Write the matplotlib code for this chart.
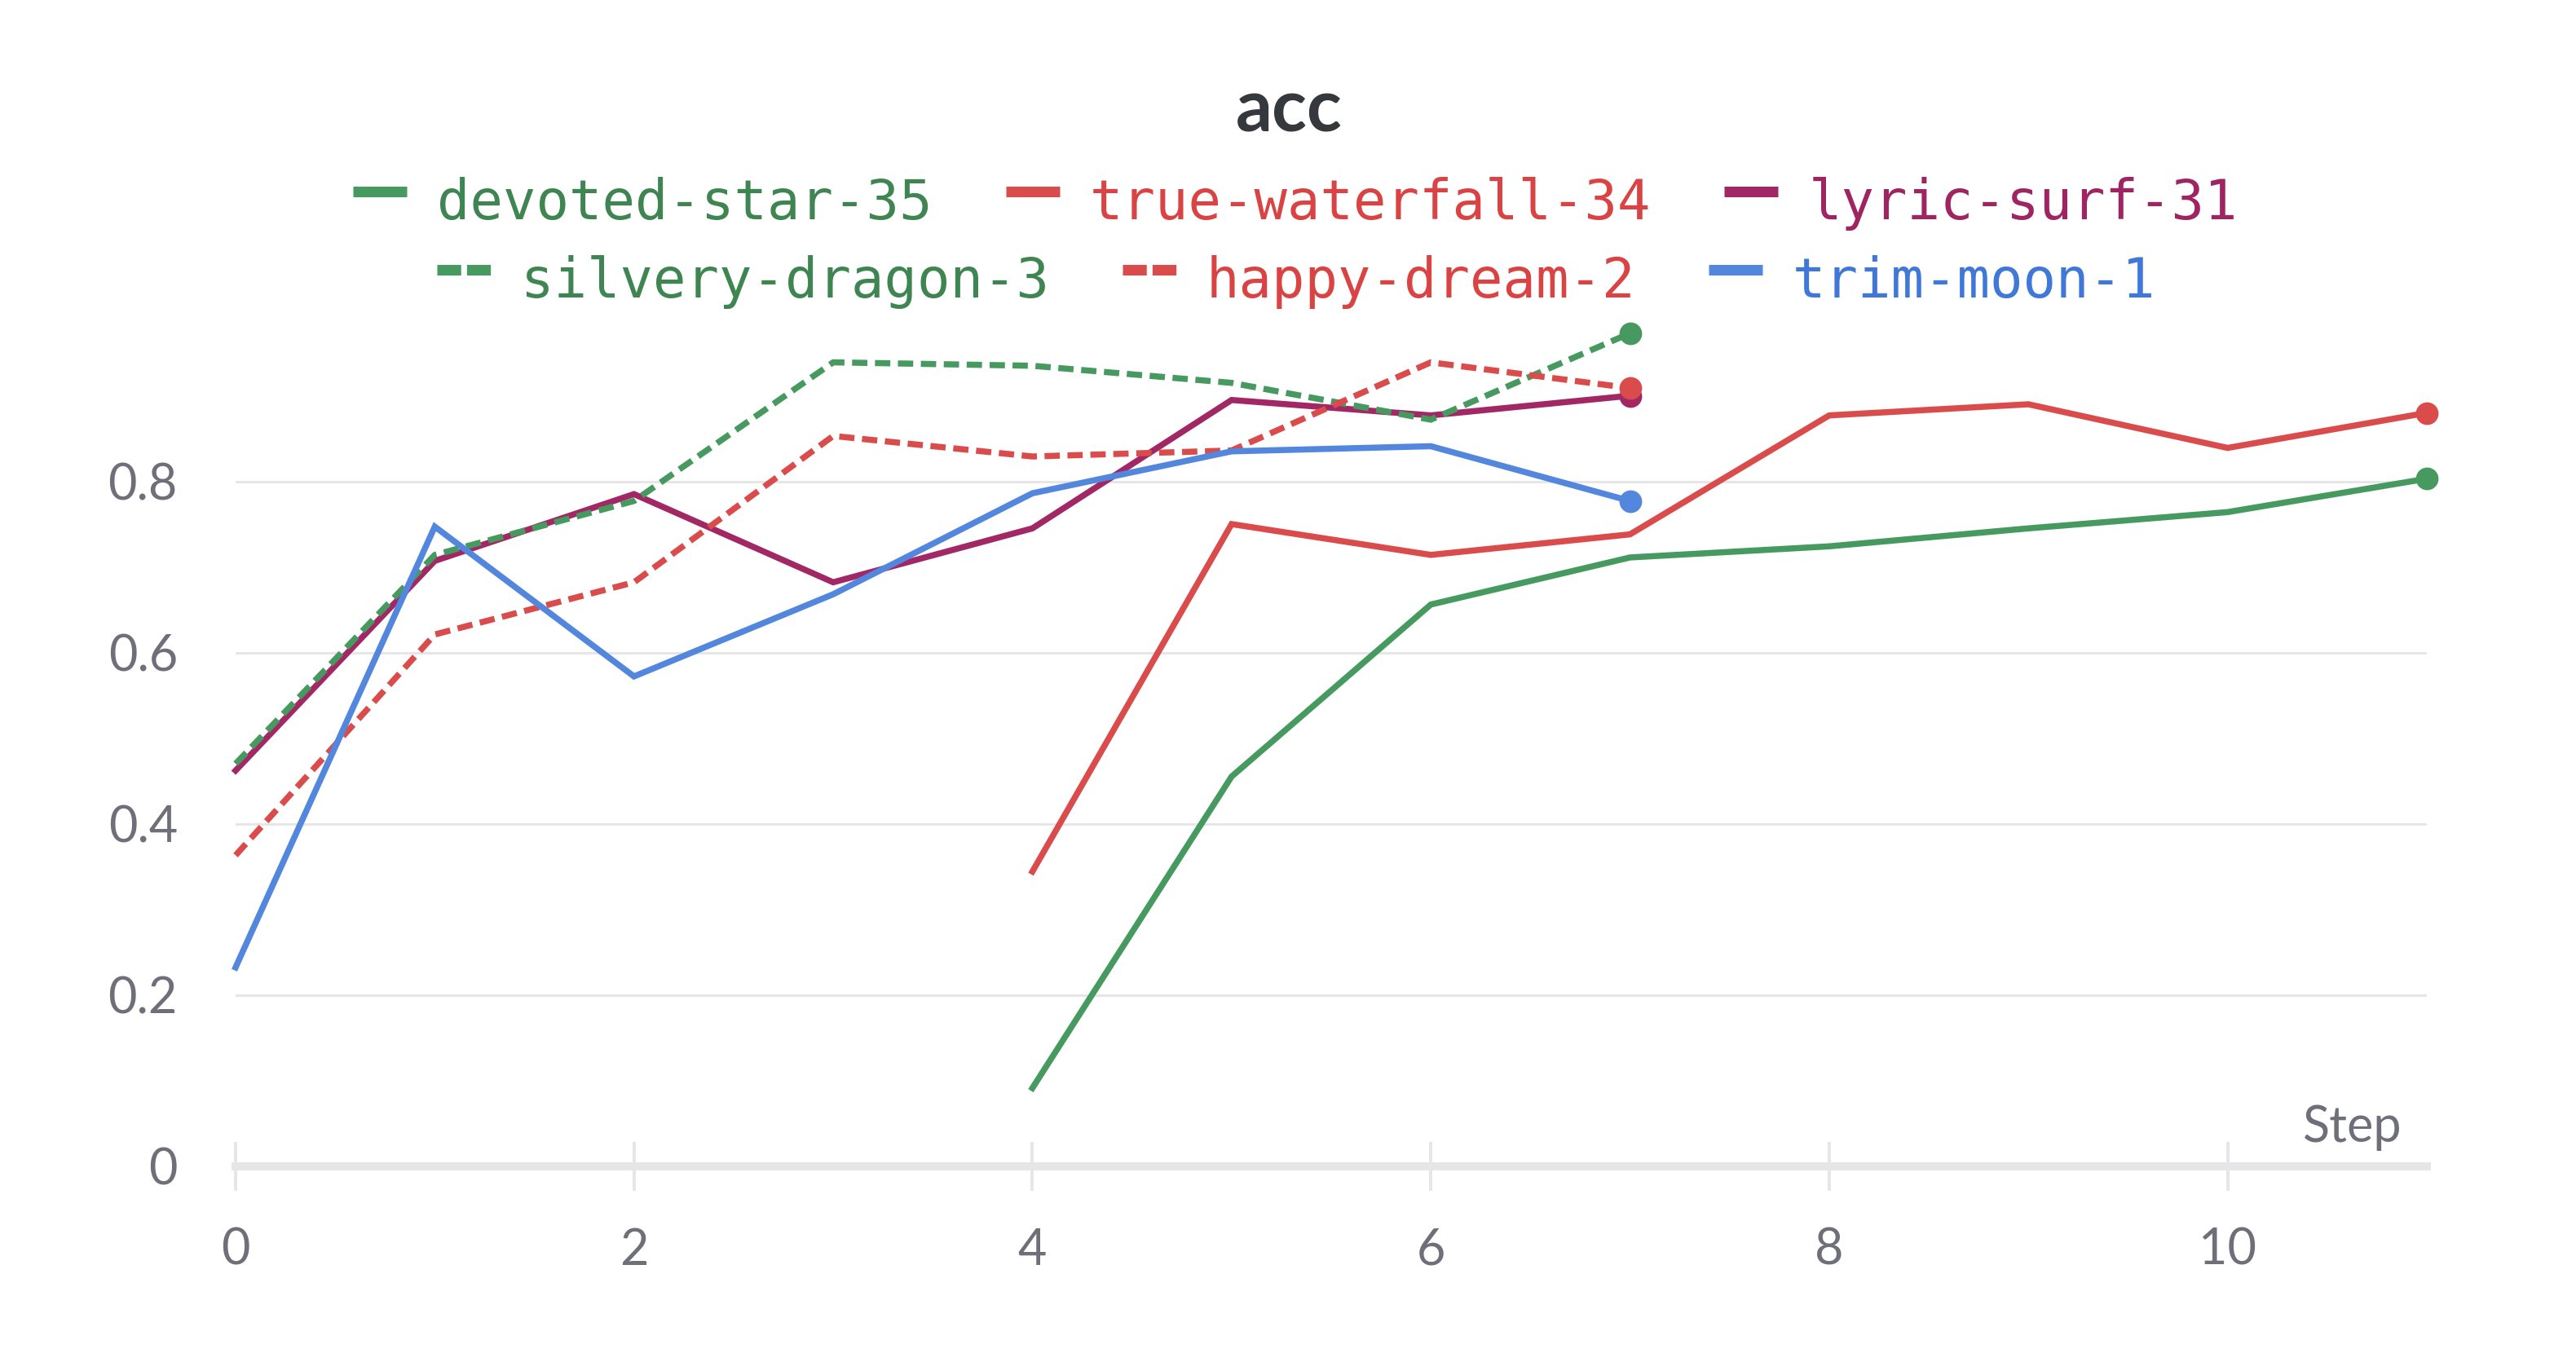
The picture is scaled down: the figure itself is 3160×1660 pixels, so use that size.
import matplotlib
matplotlib.use('Agg')
import matplotlib.pyplot as plt
from matplotlib.lines import Line2D

# Dados
steps_late = [4, 5, 6, 7, 8, 9, 10, 11]
steps_early = [0, 1, 2, 3, 4, 5, 6, 7]

devoted_star_35 = [0.091, 0.455, 0.656, 0.711, 0.724, 0.745, 0.764, 0.803]
true_waterfall_34 = [0.344, 0.750, 0.714, 0.738, 0.877, 0.890, 0.839, 0.880]
lyric_surf_31 = [0.462, 0.707, 0.785, 0.682, 0.745, 0.895, 0.877, 0.900]
silvery_dragon_3 = [0.470, 0.714, 0.777, 0.939, 0.935, 0.915, 0.872, 0.973]
happy_dream_2 = [0.363, 0.621, 0.682, 0.853, 0.829, 0.836, 0.939, 0.909]
trim_moon_1 = [0.232, 0.747, 0.572, 0.668, 0.786, 0.835, 0.841, 0.777]

run_names = ['devoted-star-35', 'true-waterfall-34', 'lyric-surf-31',
             'silvery-dragon-3', 'happy-dream-2', 'trim-moon-1']

y_ticks = [0, 0.2, 0.4, 0.6, 0.8]
y_tick_labels = ['0', '0.2', '0.4', '0.6', '0.8']
x_ticks = [0, 2, 4, 6, 8, 10]

DPI = 200
W, H = 3160, 1660

GREEN = '#479a5f'
RED = '#da4c4c'
PURPLE = '#a12864'
BLUE = '#5387dd'
TEXT_COLORS = {GREEN: '#3e8552', RED: '#d94343', PURPLE: '#9e2562', BLUE: '#3f78d8'}
GRAY_TEXT = '#6f6f7a'
AXIS_GRAY = '#e6e6e8'
SANS = ['Lato', 'Open Sans', 'DejaVu Sans']

DASHED = (0, (2.5, 1.25))


def px(v):
    # pixels -> points
    return v * 72.0 / DPI


def drawLegendRow(fig, renderer, entries, baseline_px, center_px):
    handle_w = 66
    handle_gap = 37
    entry_gap = 90

    # mede a largura de cada texto
    texts = []
    total = 0
    for name, color, dashed in entries:
        t = fig.text(0, 0, name, family='DejaVu Sans Mono', fontsize=24.2,
                     color=TEXT_COLORS[color], va='baseline', ha='left')
        w = t.get_window_extent(renderer).width
        texts.append((t, w))
        total += handle_w + handle_gap + w
    total += entry_gap * (len(entries) - 1)

    x = center_px - total / 2.0
    yb = 1 - baseline_px / H
    yh = 1 - (baseline_px - 34) / H
    for (name, color, dashed), (t, w) in zip(entries, texts):
        ls = (0, (2.25, 0.55)) if dashed else '-'
        fig.add_artist(Line2D([x / W, (x + handle_w) / W], [yh, yh],
                              transform=fig.transFigure, color=color,
                              lw=px(13), linestyle=ls, solid_capstyle='butt',
                              dash_capstyle='butt'))
        t.set_position(((x + handle_w + handle_gap) / W, yb))
        x += handle_w + handle_gap + w + entry_gap


def main():
    fig = plt.figure(figsize=(W / DPI, H / DPI), dpi=DPI)
    left, right = 289, 2977
    zero_y, one_y = 1430.5, 380.5
    ax = fig.add_axes([left / W, 1 - zero_y / H, (right - left) / W, (zero_y - one_y) / H])

    series = [
        (steps_late, devoted_star_35, GREEN, False),
        (steps_late, true_waterfall_34, RED, False),
        (steps_early, lyric_surf_31, PURPLE, False),
        (steps_early, silvery_dragon_3, GREEN, True),
        (steps_early, happy_dream_2, RED, True),
        (steps_early, trim_moon_1, BLUE, False),
    ]

    for xs, ys, color, dashed in series:
        ls = DASHED if dashed else '-'
        ax.plot(xs, ys, color=color, lw=2.7, linestyle=ls, clip_on=False,
                solid_joinstyle='miter', dash_capstyle='butt')
        # ponto no último valor
        ax.plot(xs[-1:], ys[-1:], 'o', color=color, markersize=9, clip_on=False)

    ax.set_xlim(0, 11)
    ax.set_ylim(0, 1.0)

    for s in ['top', 'right', 'left']:
        ax.spines[s].set_visible(False)
    ax.spines['bottom'].set_color(AXIS_GRAY)
    ax.spines['bottom'].set_linewidth(px(10))
    ax.spines['bottom'].set_zorder(0.5)

    ax.set_xticks(x_ticks)
    ax.set_yticks(y_ticks)
    ax.set_yticklabels(y_tick_labels)
    ax.tick_params(axis='x', direction='inout', length=px(60), width=px(4),
                   color=AXIS_GRAY, pad=px(45), labelsize=22, labelcolor=GRAY_TEXT)
    ax.tick_params(axis='y', length=0, pad=px(71), labelsize=22, labelcolor=GRAY_TEXT)
    for lab in ax.get_xticklabels() + ax.get_yticklabels():
        lab.set_family(SANS)

    ax.grid(axis='y', color=AXIS_GRAY, lw=px(3))
    ax.set_axisbelow(True)

    ax.annotate('Step', xy=(1, 0), xycoords='axes fraction', xytext=(px(-30), px(30)),
                textcoords='offset points', ha='right', va='baseline',
                fontsize=22, color=GRAY_TEXT, family=SANS)

    # título
    fig.text(1581 / W, 1 - 161 / H, 'acc', ha='center', va='baseline',
             fontsize=32, fontweight='bold', color='#35383c', family=SANS)

    # legenda em duas linhas centralizadas
    renderer = fig.canvas.get_renderer()
    entries = [(n, c, d) for n, (_, _, c, d) in zip(run_names, series)]
    drawLegendRow(fig, renderer, entries[:3], 269, 1589)
    drawLegendRow(fig, renderer, entries[3:], 365, 1590)

    fig.savefig('out.png', dpi=DPI, facecolor='white')


if __name__ == "__main__":
    main()
